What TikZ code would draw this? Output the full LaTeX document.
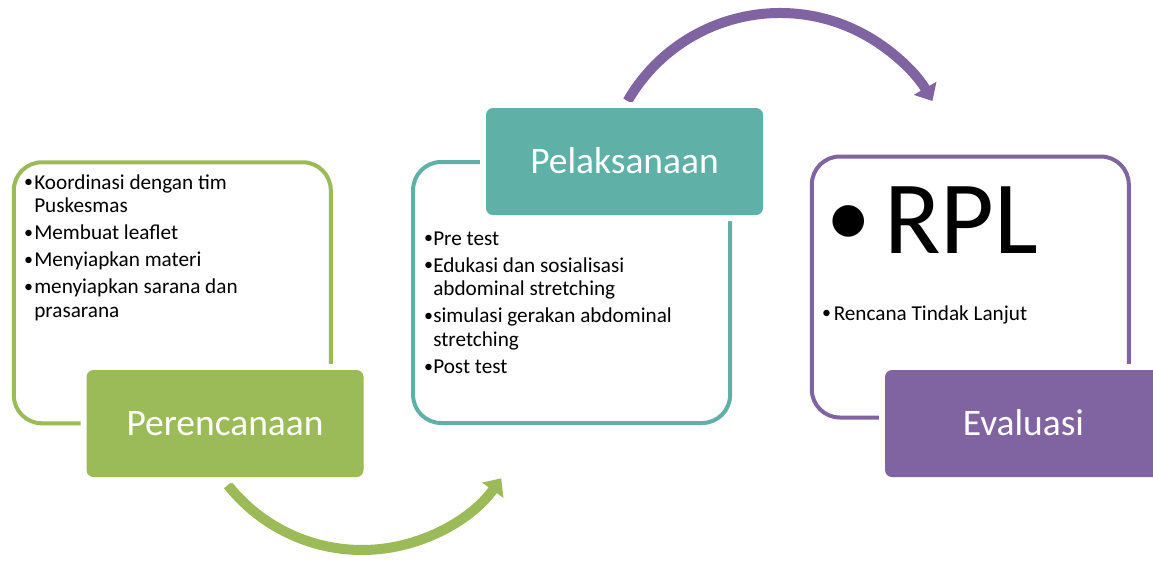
\documentclass[tikz,border=0pt]{standalone}
\usepackage{fontspec}
\setmainfont{Carlito}
\usetikzlibrary{arrows.meta}
\definecolor{cgreen}{HTML}{9BBB59}
\definecolor{cteal}{HTML}{5FB0A6}
\definecolor{cpurple}{HTML}{8064A2}
\newlength\bulw
\newcommand{\smallbul}{\raisebox{1pt}{\fontsize{13.5pt}{13.5pt}\selectfont•}}
\newcommand{\bulletitem}[1]{\noindent\makebox[\bulw][c]{\smallbul}#1\par}
\newcommand{\contline}{\newline\hspace*{\bulw}}
\newcommand{\listbox}[2]{\parbox[t]{260pt}{\raggedright\setlength\parskip{2.5pt}\setlength\bulw{#1}#2}}
\tikzset{
  outbox/.style={draw=#1, line width=3pt, rounded corners=21pt, minimum width=237.75pt, minimum height=195.75pt, inner sep=0pt, fill=white},
  fillbox/.style={fill=#1, rounded corners=5.25pt, minimum width=207.75pt, minimum height=80.25pt, inner sep=0pt, text=white, font=\fontsize{28.1pt}{30pt}\selectfont, text height=17.6pt, text depth=0pt, preaction={draw=white, line width=9pt}},
  listtext/.style={anchor=base west, inner sep=0pt, font=\fontsize{15.9pt}{17.8pt}\selectfont},
  arcarrow/.style={draw=#1, line width=7.5pt, -{Triangle[length=11pt,width=19pt,color=#1]}}
}
\begin{document}
\begin{tikzpicture}[x=0.75pt,y=-0.75pt]
\fill[white] (0,0) rectangle (1153,562);
\useasboundingbox (0,0) rectangle (1153,562);
% arrows
\coordinate (gc) at (362,379);
\coordinate (pc) at (780,189);
\draw[arcarrow=cgreen] (gc) ++(141.7:171) arc[start angle=141.7, end angle=35.5, radius=171];
\draw[arcarrow=cpurple] (pc) ++(-150:176) arc[start angle=-150, end angle=-30, radius=176];
% outline boxes
\node[outbox=cgreen] (planbg) at (172.3,292.8) {};
\node[outbox=cteal] (execbg) at (571.6,292.5) {};
\node[outbox=cpurple] (evalbg) at (970.3,287) {};
% filled boxes
\node[fillbox=cgreen] (plan) at (225,423.5) {Perencanaan};
\node[fillbox=cteal] (exec) at (624.5,161.5) {Pelaksanaan};
\node[fillbox=cpurple] (eval) at (1023.5,423.5) {Evaluasi};
% texts
\node[listtext] (plantext) at (22.6,189) {\listbox{8.55pt}{%
\bulletitem{Koordinasi dengan tim\contline Puskesmas}%
\bulletitem{Membuat leaflet}%
\bulletitem{Menyiapkan materi}%
\bulletitem{menyiapkan sarana dan\contline prasarana}}};
\node[listtext] (exectext) at (423.6,245) {\listbox{7.05pt}{%
\bulletitem{Pre test}%
\bulletitem{Edukasi dan sosialisasi\contline abdominal stretching}%
\bulletitem{simulasi gerakan abdominal\contline stretching}%
\bulletitem{Post test}}};
\node[listtext] (evaltext) at (819.1,320) {\listbox{10.8pt}{\bulletitem{Rencana Tindak Lanjut}}};
\node[anchor=base west, inner sep=0pt, font=\fontsize{78pt}{84pt}\selectfont] (rpl) at (812,253) {\makebox[54pt][c]{\raisebox{4.7pt}{\fontsize{67pt}{67pt}\selectfont•}}RPL};
\end{tikzpicture}
\end{document}
